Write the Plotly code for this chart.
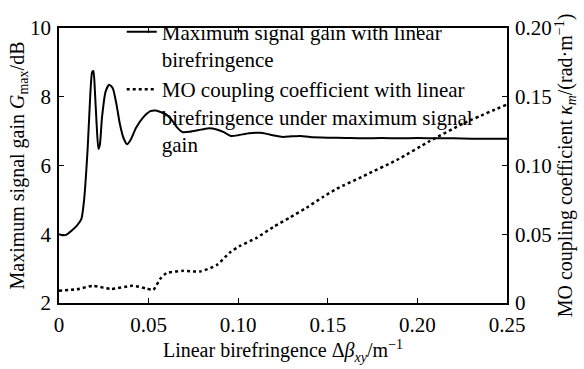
import plotly.graph_objects as go

# Linear birefringence (m^-1) and maximum signal gain (dB)
gain_x = [0.000, 0.002, 0.004, 0.007, 0.010, 0.0125, 0.014, 0.016, 0.0175, 0.0185, 0.0192,
          0.020, 0.021, 0.022, 0.0228, 0.024, 0.026, 0.028, 0.030, 0.032, 0.034, 0.036,
          0.038, 0.040, 0.043, 0.047, 0.051, 0.054, 0.057, 0.060, 0.063, 0.066, 0.069,
          0.073, 0.078, 0.083, 0.088, 0.092, 0.096, 0.100, 0.106, 0.112, 0.116, 0.120,
          0.125, 0.130, 0.135, 0.140, 0.150, 0.160, 0.170, 0.180, 0.190, 0.200, 0.210,
          0.220, 0.230, 0.240, 0.250]
gain_y = [4.00, 3.97, 3.98, 4.10, 4.25, 4.45, 5.00, 6.50, 8.10, 8.72, 8.75,
          8.20, 7.20, 6.48, 6.60, 7.40, 8.15, 8.35, 8.25, 7.80, 7.20, 6.80,
          6.62, 6.75, 7.10, 7.40, 7.58, 7.60, 7.55, 7.48, 7.32, 7.10, 6.97,
          6.98, 7.03, 7.08, 7.05, 6.97, 6.86, 6.88, 6.94, 6.95, 6.92, 6.87,
          6.83, 6.85, 6.86, 6.83, 6.81, 6.80, 6.79, 6.80, 6.79, 6.80, 6.79,
          6.79, 6.78, 6.78, 6.78]

# MO coupling coefficient (rad/m) under maximum signal gain
kappa_x = [0.000, 0.010, 0.019, 0.029, 0.041, 0.049, 0.0526, 0.0564, 0.060, 0.0694,
           0.0787, 0.088, 0.0954, 0.101, 0.110, 0.1196, 0.129, 0.138, 0.1475, 0.155,
           0.170, 0.1885, 0.207, 0.2257, 0.250]
kappa_y = [0.009, 0.010, 0.0125, 0.0102, 0.0125, 0.0105, 0.0095, 0.0174, 0.0217, 0.0234,
           0.0229, 0.0276, 0.0368, 0.0415, 0.0472, 0.0553, 0.0623, 0.0692, 0.0773, 0.0831,
           0.0924, 0.104, 0.1178, 0.1306, 0.1444]

x_ticks = [0, 0.05, 0.10, 0.15, 0.20, 0.25]
x_ticktext = ["0", "0.05", "0.10", "0.15", "0.20", "0.25"]
y1_ticks = [2, 4, 6, 8, 10]
y2_ticks = [0, 0.05, 0.10, 0.15, 0.20]
y2_ticktext = ["0", "0.05", "0.10", "0.15", "0.20"]

FONT = "Liberation Serif"

fig = go.Figure()
fig.add_trace(go.Scatter(
    x=gain_x, y=gain_y, mode="lines",
    line=dict(color="black", width=2, shape="spline", smoothing=0.6),
    name="Maximum signal gain with linear<br>birefringence",
))
fig.add_trace(go.Scatter(
    x=kappa_x, y=kappa_y, mode="lines", yaxis="y2",
    line=dict(color="black", width=2.5, dash="dot", shape="spline", smoothing=0.6),
    name="MO coupling coefficient with linear<br>birefringence under maximum signal<br>gain",
))

axis_common = dict(
    showline=True, linecolor="black", linewidth=1.5,
    ticks="inside", ticklen=5, tickwidth=1.2, tickcolor="black",
    showgrid=False, zeroline=False, automargin=False,
    tickfont=dict(family=FONT, size=21, color="black"),
)

fig.update_layout(
    width=584, height=369,
    margin=dict(l=59, r=77, t=15, b=66),
    paper_bgcolor="white", plot_bgcolor="white",
    font=dict(family=FONT, size=20, color="black"),
    showlegend=True,
    legend=dict(
        x=0.14, y=1.06, xanchor="left", yanchor="top",
        bgcolor="rgba(0,0,0,0)", borderwidth=0,
        valign="top", font=dict(family=FONT, size=21, color="black"),
        tracegroupgap=0, itemwidth=30,
    ),
    xaxis=dict(
        range=[0, 0.25], tickvals=x_ticks, ticktext=x_ticktext, mirror="ticks",
        ticklabelstandoff=2,
        title=dict(text="Linear birefringence Δ<i>β</i><sub><i>xy</i></sub>/m<sup>−1</sup>",
                   font=dict(family=FONT, size=20), standoff=4),
        **axis_common,
    ),
    yaxis=dict(
        range=[2, 10], tickvals=y1_ticks, ticklabelstandoff=2,
        title=dict(text="Maximum signal gain <i>G</i><sub>max</sub>/dB",
                   font=dict(family=FONT, size=20), standoff=0),
        **axis_common,
    ),
    yaxis2=dict(
        range=[0, 0.20], tickvals=y2_ticks, ticktext=y2_ticktext,
        overlaying="y", side="right", ticklabelstandoff=2,
        title=dict(text="MO coupling coefficient <i>κ<sub>m</sub></i>/(rad·m<sup>−1</sup>)",
                   font=dict(family=FONT, size=20), standoff=7),
        **axis_common,
    ),
)

fig.write_html("out.html", config={"displayModeBar": False},
               post_script="document.body.style.margin='0';document.body.style.overflow='hidden';")
